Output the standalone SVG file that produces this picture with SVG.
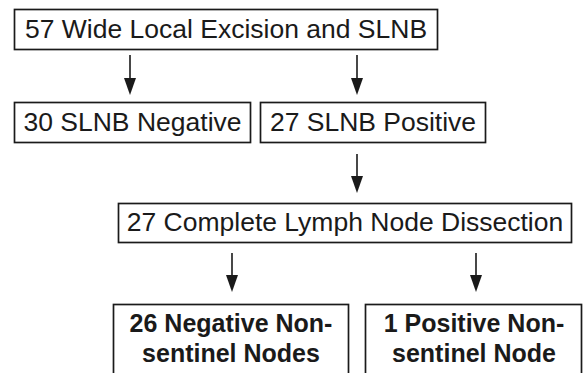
<svg xmlns="http://www.w3.org/2000/svg" width="583" height="373" viewBox="0 0 583 373">
<style>
.box{fill:#fff;stroke:#1a1a1a;stroke-width:1.7}
.t{font-family:"Liberation Sans",Arial,sans-serif;font-size:26.5px;fill:#1a1a1a;text-anchor:middle}
.b{font-family:"Liberation Sans",Arial,sans-serif;font-size:25px;font-weight:bold;fill:#1a1a1a;text-anchor:middle}
.ln{stroke:#1a1a1a;stroke-width:1.6;fill:none}
.hd{fill:#1a1a1a}
</style>
<rect width="583" height="373" fill="#fff"/>
<g id="connectors">
<line class="ln" x1="130" y1="55" x2="130" y2="80"/><polygon class="hd" points="124,78 136,78 130,95"/>
<line class="ln" x1="357" y1="55" x2="357" y2="80"/><polygon class="hd" points="351,78 363,78 357,95"/>
<line class="ln" x1="357" y1="154" x2="357" y2="178"/><polygon class="hd" points="351,176 363,176 357,193"/>
<line class="ln" x1="232" y1="253" x2="232" y2="277"/><polygon class="hd" points="226,275 238,275 232,292"/>
<line class="ln" x1="476" y1="253" x2="476" y2="277"/><polygon class="hd" points="470,275 482,275 476,292"/>
</g>
<g id="n1"><rect class="box" x="14.5" y="9.5" width="423" height="40"/><text class="t" x="226" y="37.5">57 Wide Local Excision and SLNB</text></g>
<g id="n2"><rect class="box" x="14.5" y="102.5" width="236" height="40"/><text class="t" x="132.5" y="130.5">30 SLNB Negative</text></g>
<g id="n3"><rect class="box" x="260.5" y="102.5" width="225" height="40"/><text class="t" x="373" y="130.5">27 SLNB Positive</text></g>
<g id="n4"><rect class="box" x="118.5" y="203.5" width="453" height="39"/><text class="t" x="345" y="231">27 Complete Lymph Node Dissection</text></g>
<g id="n5"><rect class="box" x="113.5" y="304.5" width="235" height="80"/><text class="b" x="231" y="332">26 Negative Non-</text><text class="b" x="231" y="362">sentinel Nodes</text></g>
<g id="n6"><rect class="box" x="365.5" y="304.5" width="216" height="80"/><text class="b" x="474" y="332">1 Positive Non-</text><text class="b" x="474" y="362">sentinel Node</text></g>
</svg>
